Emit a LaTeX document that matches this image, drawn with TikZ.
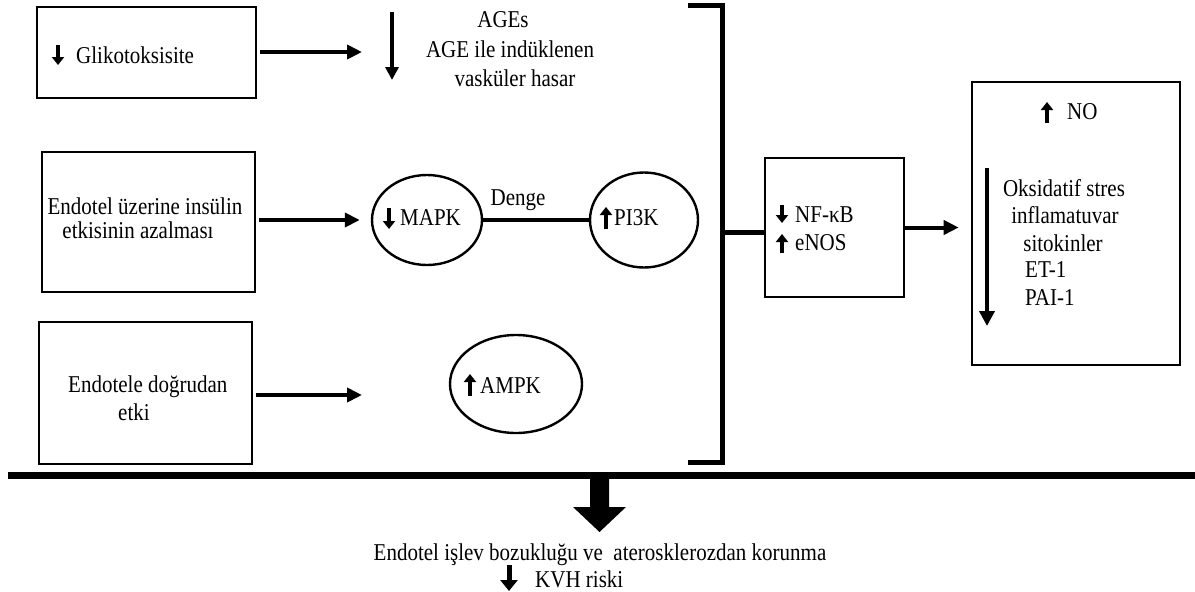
\documentclass[tikz,border=0pt]{standalone}
\usepackage{fontspec}
\setmainfont{Liberation Serif}
\usetikzlibrary{arrows.meta,shapes.geometric}
\newcommand{\T}[1]{\scalebox{1}[1.15]{#1}}
\begin{document}
\begin{tikzpicture}[x=1pt,y=-1pt,
  box/.style={draw,line width=2.6pt,inner sep=0pt},
  ell/.style={draw,ellipse,line width=2.4pt,inner sep=0pt},
  txt/.style={font=\fontsize{21}{24}\selectfont,inner sep=0pt},
  arr/.style={line width=4pt,-{Triangle[length=15pt,width=14pt]}},
  garr/.style={line width=4pt,-{Triangle[length=8pt,width=12pt]}},
  bigarr/.style={line width=4pt,-{Triangle[length=15pt,width=15pt]}},
  thick line/.style={line width=5pt}
]
\useasboundingbox[fill=white] (0,0) rectangle (1195,592);

% boxes and ellipses
\node[box,minimum width=219pt,minimum height=91pt] (b1) at (146.5,52.5) {};
\node[box,minimum width=213pt,minimum height=140pt] (b2) at (148.5,222) {};
\node[box,minimum width=213pt,minimum height=142pt] (b3) at (145.5,393) {};
\node[ell,minimum width=110pt,minimum height=90pt] (mapk) at (427,220) {};
\node[ell,minimum width=108pt,minimum height=95pt] (pi3k) at (644,220) {};
\node[ell,minimum width=132pt,minimum height=98pt] (ampk) at (516,384) {};
\node[box,minimum width=139pt,minimum height=139pt] (nf) at (834.5,227.5) {};
\node[box,minimum width=208pt,minimum height=283pt] (res) at (1076,223.5) {};

% texts
\node[txt,anchor=west] (t1) at (76,55) {\T{Glikotoksisite}};
\node[txt] (age1) at (503,20) {\T{AGEs}};
\node[txt] (age2) at (510,49) {\T{AGE ile indüklenen}};
\node[txt] (age3) at (515,78) {\T{vasküler hasar}};
\node[txt] (t2a) at (145,206) {\T{Endotel üzerine insülin}};
\node[txt] (t2b) at (138,230) {\T{etkisinin azalması}};
\node[txt,anchor=west] (t3a) at (68,387) {\T{Endotele doğrudan}};
\node[txt,anchor=west] (t3b) at (118,412) {\T{etki}};
\node[txt,anchor=west] (tmapk) at (400,218) {\T{MAPK}};
\node[txt,anchor=west] (tpi3k) at (614,218) {\T{PI3K}};
\node[txt,anchor=west] (tampk) at (480,386) {\T{AMPK}};
\node[txt] (denge) at (518,200) {\T{Denge}};
\node[txt,anchor=west] (tnf) at (795,215) {\T{NF-κB}};
\node[txt,anchor=west] (tenos) at (795,243) {\T{eNOS}};
\node[txt,anchor=west] (tno) at (1067,112) {\T{NO}};
\node[txt] (r1) at (1064,188) {\T{Oksidatif stres}};
\node[txt] (r2) at (1065,215) {\T{inflamatuvar}};
\node[txt] (r3) at (1063,243) {\T{sitokinler}};
\node[txt,anchor=west] (r4) at (1025,270) {\T{ET-1}};
\node[txt,anchor=west] (r5) at (1025,298) {\T{PAI-1}};
\node[txt] (bot1) at (600,555) {\T{Endotel işlev bozukluğu ve\ \ aterosklerozdan korunma}};
\node[txt,anchor=west] (bot2) at (535,579) {\T{KVH riski}};

% small glyph arrows
\draw[garr] (58,45) -- (58,65);
\draw[garr] (389,208) -- (389,229);
\draw[garr] (606,229) -- (606,207);
\draw[garr] (470,396) -- (470,374);
\draw[garr] (782,205) -- (782,223);
\draw[garr] (782,253) -- (782,234);
\draw[garr] (1047,123) -- (1047,102);
\draw[line width=5pt,-{Triangle[length=11pt,width=17pt]}] (509,565) -- (509,591);

% AGE down arrow
\draw[line width=3.5pt,-{Triangle[length=13pt,width=13pt]}] (392,12) -- (392,80);
% big down arrow in result box
\draw[bigarr] (987,168) -- (987,326);

% connectors
\coordinate (e1) at (362,52);
\coordinate (e3) at (362,395);
\draw[arr] ([xshift=3pt]b1.east |- e1) -- (e1);
\draw[arr] ([xshift=3pt]b2.east |- mapk.west) -- ([xshift=-11pt]mapk.west);
\draw[arr] ([xshift=3pt]b3.east |- e3) -- (e3);
\draw[line width=3.5pt] (mapk.east) -- (pi3k.west);

% bracket
\coordinate (brt) at (722,5);
\coordinate (brb) at (722,462);
\coordinate (brm) at (722,232);
\draw[thick line] (688,5) -- (brt) -- (brb) -- (688,462);
\draw[thick line] (brm) -- (nf.west |- brm);
\draw[arr] (nf.east) -- ([xshift=-12pt]res.west |- nf.east);

% main line and big arrow
\draw[line width=7pt] (8,475) -- (1195,475);
\fill (590,478) -- (609,478) -- (609,507) -- (626,507) -- (599.5,532) -- (573,507) -- (590,507) -- cycle;
\end{tikzpicture}
\end{document}
